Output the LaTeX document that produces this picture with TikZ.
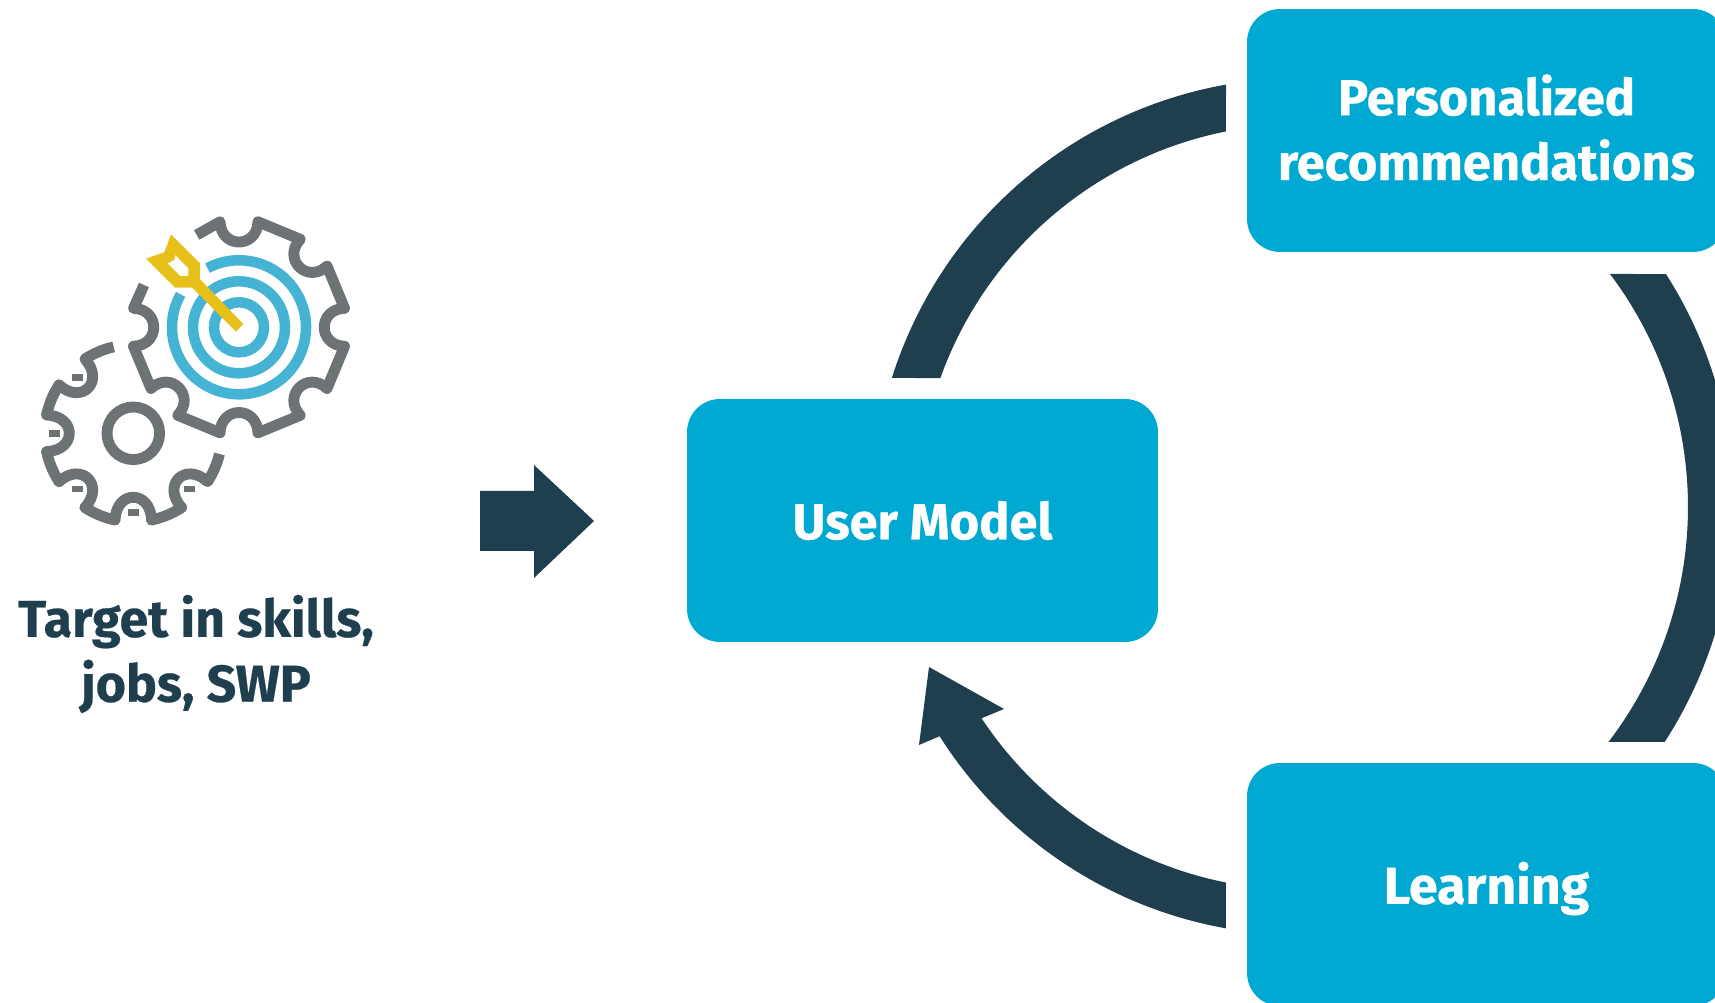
\documentclass[tikz,border=0pt]{standalone}
\usepackage{fontspec}
\setmainfont{Fira Sans}[BoldFeatures={FakeBold=0.5}]
\usetikzlibrary{calc}
\definecolor{boxblue}{HTML}{00A9D1}
\definecolor{darkteal}{HTML}{203F4E}
\definecolor{geargrey}{HTML}{6D7375}
\definecolor{ringblue}{HTML}{45B3D3}
\definecolor{dartyellow}{HTML}{E7C01A}
\tikzset{
  x=0.02cm,y=0.02cm,
  labeltext/.style={font=\fontsize{29.5}{36.9}\selectfont\bfseries,align=center,inner sep=0pt},
  stagebox/.style={labeltext,fill=boxblue,text=white,rounded corners=0.66cm,minimum width=9.58cm,minimum height=4.86cm},
  tightbox/.style={stagebox,font=\fontsize{28.8}{36.9}\selectfont\bfseries},
  loopfill/.style={fill=darkteal},
  gearline/.style={draw=geargrey,line width=6.2pt,line join=round,line cap=round},
  gearend/.style={draw=geargrey,line width=6.2pt},
  ringline/.style={draw=ringblue,line width=6pt}
}
\begin{document}
\begin{tikzpicture}
\clip (0,0) rectangle (1715,1003);
\node[tightbox,minimum width=9.42cm] (um) at (922.5,482.5) {User Model};
\node[tightbox,text depth=3.8pt] (rec) at (1486.5,872.5) {Personalized\\recommendations};
\node[stagebox,text depth=2pt] (learn) at (1486.5,118.5) {Learning};
\node[labeltext,text=darkteal] (target) at (196,349) {Target in skills,\\jobs, SWP};
\coordinate (hub) at (1301,496);
\fill[loopfill] (480,512) -- (534,512) -- (534,538) -- (594,482) -- (534,425) -- (534,452) -- (480,452) -- cycle;
\fill[loopfill] ($(hub)+(162.5:429)$) arc[start angle=162.5,end angle=100.07,radius=429]
  -- ($(hub)+(101.3:383)$) arc[start angle=101.3,end angle=160.32,radius=383] -- cycle;
\fill[loopfill] ($(hub)+(32.55:433)$) arc[start angle=32.55,end angle=-32.87,radius=433]
  -- ($(hub)+(-37.39:387)$) arc[start angle=-37.39,end angle=37.02,radius=387] -- cycle;
\fill[loopfill] ($(hub)+(212.39:428)$) arc[start angle=212.39,end angle=259.9,radius=428]
  -- ($(hub)+(258.7:383)$) arc[start angle=258.7,end angle=213.48,radius=383]
  -- (1004,294) -- (929,336) -- (919,258) -- cycle;
\begin{scope}[shift={(239,675.7)}]
\foreach \r in {0,-45,-90,-135,-180,-225}
  \draw[gearline,rotate=\r] (-19,105.5) .. controls (-18,78.5) and (18,78.5) .. (19,105.5) -- (61.2,88);
\draw[gearline,rotate=90] (-19,105.5) .. controls (-18,78.5) and (18,78.5) .. (19,105.5);
\draw[gearend] (-42.3,92.3) -- (-19,105.5);
\draw[gearend] (-95,42.3) -- (-105.5,19);
\draw[ringline] (0,0) circle[radius=25];
\draw[ringline] (0,0) circle[radius=46];
\draw[ringline] (118:67) arc[start angle=118,end angle=-209.4,radius=67];
\end{scope}
\begin{scope}[shift={(133.3,569.7)}]
\foreach \r in {45,90,135,180,225}
  \draw[gearline,rotate=\r] (18.3,86.7) .. controls (17,56.4) and (-17,56.4) .. (-18.3,86.7);
\foreach \r in {45,90,135,180}
  \draw[gearline,rotate=\r] (101.9:88.6) arc[start angle=101.9,end angle=123.1,radius=88.6];
\draw[gearend] (123.1:88.6) arc[start angle=123.1,end angle=102.8,radius=88.6];
\draw[gearend] (326.9:88.6) arc[start angle=326.9,end angle=346.5,radius=88.6];
\draw[geargrey,line width=6.2pt] (0,0) circle[radius=26.3];
\foreach \a in {135,180,225,270,315}
  \fill[geargrey] (\a:79) +(-5.5,-3.3) rectangle +(5.5,3.3);
\end{scope}
\fill[dartyellow,even odd rule] (146,744.3) -- (164.3,750.7) -- (171,768.7) -- (200,739.7) -- (200,723.7) -- (243.3,679)
  -- (236,671.3) -- (192.3,715.3) -- (175,715.3) -- cycle
  (167.3,739.7) -- (174.3,743) -- (175.3,748) -- (188.3,734.7) -- (188.3,727) -- (180,727) -- cycle;
\end{tikzpicture}
\end{document}
